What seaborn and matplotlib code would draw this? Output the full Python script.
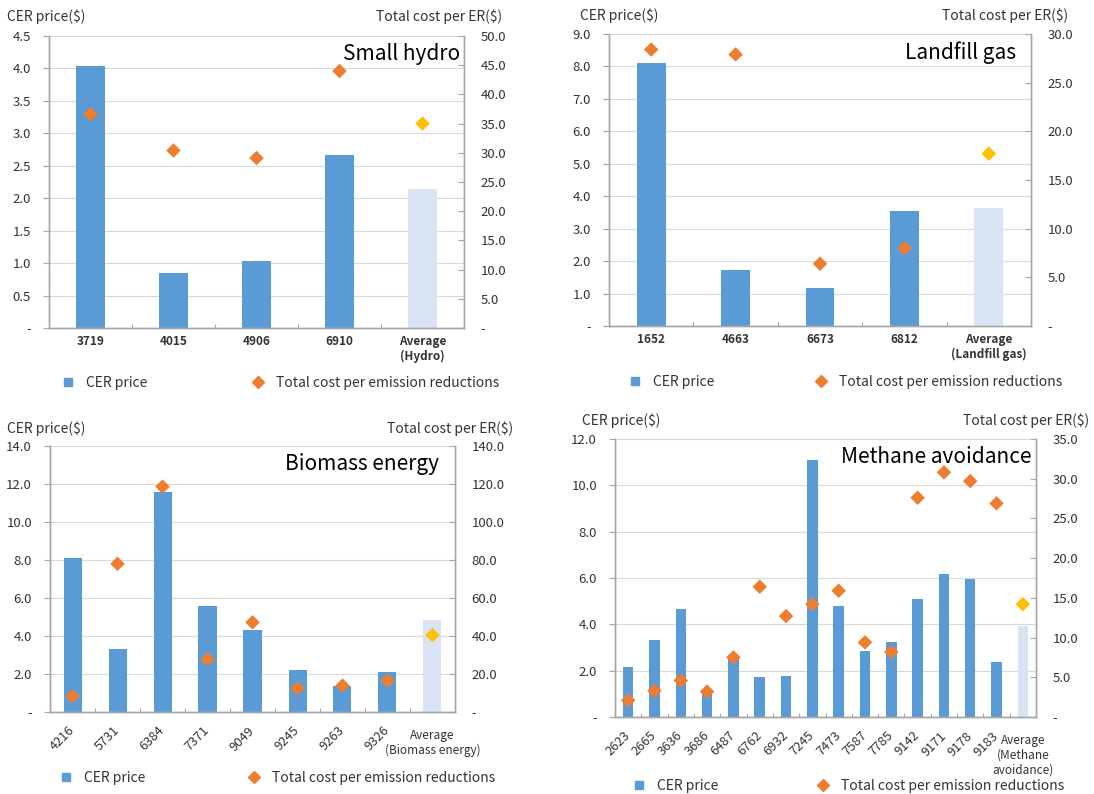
import matplotlib
matplotlib.use('Agg')
import matplotlib.pyplot as plt
import matplotlib.ticker as ticker
from matplotlib.lines import Line2D
import numpy as np
import pandas as pd
import seaborn as sns

sns.set_style('white')
plt.rcParams['font.family'] = ['Noto Sans CJK KR', 'DejaVu Sans']

BLUE = '#5B9BD5'
AVG_BLUE = '#DAE3F3'
ORANGE = '#ED7D31'
GOLD = '#FFC000'
GRID = '#D9D9D9'
SPINE = '#A6A6A6'
TXT = '#333333'

# Small hydro
hydro_ids = ['3719', '4015', '4906', '6910', 'Average\n(Hydro)']
hydro_price = [4.03, 0.85, 1.03, 2.67, 2.14]
hydro_cost = [36.6, 30.4, 29.1, 44.0, 35.0]

# Landfill gas
landfill_ids = ['1652', '4663', '6673', '6812', 'Average\n(Landfill gas)']
landfill_price = [8.11, 1.72, 1.17, 3.53, 3.64]
landfill_cost = [28.4, 27.9, 6.4, 8.0, 17.7]

# Biomass energy
biomass_ids = ['4216', '5731', '6384', '7371', '9049', '9245', '9263', '9326',
               'Average\n(Biomass energy)']
biomass_price = [8.10, 3.34, 11.58, 5.57, 4.32, 2.23, 1.35, 2.11, 4.83]
biomass_cost = [8.3, 78.0, 118.6, 27.8, 47.2, 12.5, 13.9, 16.5, 40.4]

# Methane avoidance
methane_ids = ['2623', '2665', '3636', '3686', '6487', '6762', '6932', '7245',
               '7473', '7587', '7785', '9142', '9171', '9178', '9183',
               'Average\n(Methane\navoidance)']
methane_price = [2.16, 3.32, 4.66, 1.11, 2.68, 1.71, 1.77, 11.08,
                 4.79, 2.83, 3.24, 5.09, 6.17, 5.97, 2.36, 3.94]
methane_cost = [2.1, 3.3, 4.6, 3.2, 7.5, 16.4, 12.7, 14.2,
                15.9, 9.4, 8.2, 27.6, 30.8, 29.7, 26.9, 14.2]

W, H = 1094, 794


def fmt(v, p):
    return '-' if abs(v) < 1e-9 else f'{v:.1f}'


def draw_panel(fig, box, ids, price, cost, title, lmax, lstep, rmax, rstep,
               rotate, width, title_x, head_y, head_lx, head_rx, leg_y, leg_x1, leg_x2,
               xfs):
    x0, y0, x1, y1 = box
    ax = fig.add_axes([x0 / W, 1 - y1 / H, (x1 - x0) / W, (y1 - y0) / H])
    n = len(ids)
    kind = ['project'] * (n - 1) + ['average']
    df = pd.DataFrame({'id': ids, 'price': price, 'cost': cost,
                       'pos': np.arange(n), 'kind': kind})

    sns.barplot(data=df, x='id', y='price', hue='id',
                palette=[BLUE] * (n - 1) + [AVG_BLUE], legend=False,
                width=width, saturation=1, edgecolor='none', ax=ax)
    ax.set_axisbelow(True)
    ax.yaxis.grid(True, color=GRID, linewidth=0.8)
    ax.set_ylim(0, lmax)
    ax.yaxis.set_major_locator(ticker.MultipleLocator(lstep))
    ax.yaxis.set_major_formatter(ticker.FuncFormatter(fmt))
    ax.set_xlabel('')
    ax.set_ylabel('')
    ax.tick_params(axis='y', left=True, length=4, width=0.8, color=SPINE,
                   labelsize=9.5, labelcolor=TXT, pad=9)
    ax.tick_params(axis='x', which='major', length=0, labelsize=xfs,
                   labelcolor=TXT, pad=5)
    ax.xaxis.set_minor_locator(ticker.FixedLocator(np.arange(n - 1) + 0.5))
    ax.tick_params(axis='x', which='minor', bottom=True, direction='in',
                   length=3, width=0.8, color=SPINE)

    ax2 = ax.twinx()
    sns.scatterplot(data=df, x='pos', y='cost', hue='kind',
                    palette={'project': ORANGE, 'average': GOLD},
                    marker='D', s=55, edgecolor='none', legend=False, ax=ax2)
    ax2.set_ylim(0, rmax)
    ax2.yaxis.set_major_locator(ticker.MultipleLocator(rstep))
    ax2.yaxis.set_major_formatter(ticker.FuncFormatter(fmt))
    ax2.set_ylabel('')
    ax2.tick_params(axis='y', right=True, direction='in', length=4, width=0.8,
                    color=SPINE, labelsize=9.5, labelcolor=TXT, pad=12)
    ax.set_xlim(-0.5, n - 0.5)

    for a in (ax, ax2):
        a.spines['top'].set_visible(False)
        for s in ('left', 'right', 'bottom'):
            a.spines[s].set_color(SPINE)
            a.spines[s].set_linewidth(1.0)

    labels = ax.get_xticklabels()
    if rotate:
        for lab in labels[:-1]:
            lab.set_rotation(45)
            lab.set_ha('right')
            lab.set_va('center')
            lab.set_rotation_mode('anchor')
            lab.set_fontsize(xfs + 0.8)
        ax.tick_params(axis='x', which='major', pad=12)
    else:
        for lab in labels:
            lab.set_fontweight('bold')

    ax.text(title_x, 0.975, title, transform=ax.transAxes, ha='right',
            va='top', fontsize=15, color='black')

    fig.text(head_lx / W, 1 - head_y / H, 'CER price($)', ha='left',
             va='center', fontsize=10, color=TXT)
    fig.text(head_rx / W, 1 - head_y / H, 'Total cost per ER($)', ha='right',
             va='center', fontsize=10, color=TXT)

    h1 = Line2D([], [], marker='s', color=BLUE, linestyle='none', markersize=6)
    h2 = Line2D([], [], marker='D', color=ORANGE, linestyle='none', markersize=6)
    for h, lab, lx in ((h1, 'CER price', leg_x1), (h2, 'Total cost per emission reductions', leg_x2)):
        fig.legend([h], [lab], loc='center left',
                   bbox_to_anchor=((lx - 7) / W, 1 - leg_y / H),
                   frameon=False, fontsize=10, handlelength=1,
                   handletextpad=0.8, borderpad=0, borderaxespad=0,
                   labelcolor=TXT)
    return ax, ax2


fig = plt.figure(figsize=(W / 100, H / 100), dpi=100)

draw_panel(fig, (49, 36, 464, 328), hydro_ids, hydro_price, hydro_cost,
           'Small hydro', 4.5, 0.5, 50, 5, False, 0.34, 0.99,
           17, 7, 502, 383, 68, 258, 8.5)
draw_panel(fig, (609, 34, 1031, 326), landfill_ids, landfill_price, landfill_cost,
           'Landfill gas', 9, 1, 30, 5, False, 0.34, 0.965,
           16, 580, 1068, 382, 635, 821, 8.5)
draw_panel(fig, (50, 446, 455, 712), biomass_ids, biomass_price, biomass_cost,
           'Biomass energy', 14, 2, 140, 20, True, 0.4, 0.96,
           429, 7, 513, 778, 66, 254, 8.5)
draw_panel(fig, (615, 439, 1036, 717), methane_ids, methane_price, methane_cost,
           'Methane avoidance', 12, 2, 35, 5, True, 0.4, 0.99,
           421, 582, 1089, 786, 639, 823, 8.5)

fig.savefig('out.png', dpi=100)
